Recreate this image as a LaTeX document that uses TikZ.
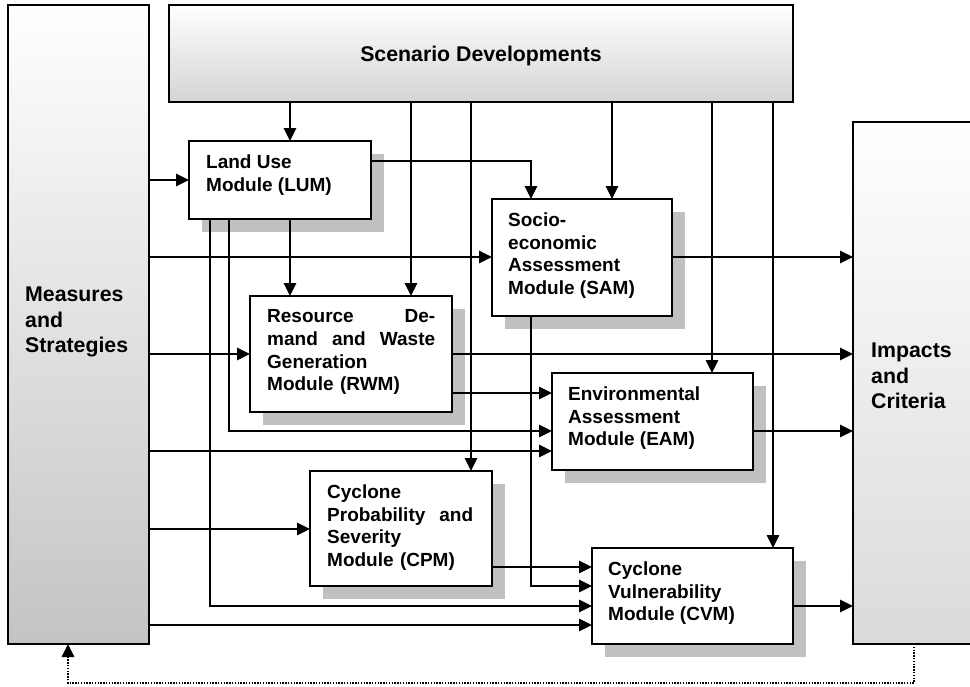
\documentclass[tikz,border=0pt]{standalone}
\usepackage{fontspec}
\setmainfont{Liberation Sans}
\usetikzlibrary{arrows.meta,shadows}
\definecolor{shadowgray}{HTML}{C0C0C0}
\definecolor{sidegray}{HTML}{C4C4C4}
\definecolor{rightgray}{HTML}{DADADA}
\definecolor{topgray}{HTML}{D4D4D4}
\begin{document}
\begin{tikzpicture}[x=1pt,y=-1pt,
  panel/.style={draw, line width=1.7pt, inner sep=0pt, outer sep=0pt,
    anchor=north west, top color=white},
  module/.style={draw, line width=1.7pt, fill=white, inner sep=0pt, outer sep=0pt,
    anchor=north west,
    drop shadow={shadow xshift=13pt, shadow yshift=-13pt, fill=shadowgray, opacity=1}},
  modtext/.style={font=\bfseries\fontsize{19}{22.7}\selectfont, align=left,
    inner sep=0pt, anchor=north west},
  sidetext/.style={font=\bfseries\fontsize{21.3}{25.5}\selectfont, align=left,
    inner sep=0pt, anchor=north west},
  flow/.style={line width=1.4pt, -{Triangle[length=13pt,width=12.5pt]}},
  feedback/.style={line width=1.4pt, dash pattern=on 1.4pt off 1.4pt,
    -{Triangle[length=13pt,width=12.5pt]}}
]
\useasboundingbox (0,0) rectangle (970,686);

% outer panels
\node[panel, bottom color=sidegray, minimum width=141pt, minimum height=639pt] (meas) at (8,5) {};
\node[panel, bottom color=topgray, minimum width=624pt, minimum height=97pt] (scen) at (169,5) {};
\node[panel, bottom color=rightgray, minimum width=130pt, minimum height=522pt] (imp) at (853,122) {};

\node[sidetext] (meas-t) at ([xshift=17pt,yshift=-282pt]meas.north west) {Measures\\and\\Strategies};
\node[sidetext] (imp-t) at ([xshift=18pt,yshift=-221pt]imp.north west) {Impacts\\and\\Criteria};
\node[font=\bfseries\fontsize{21.3}{25.5}\selectfont, anchor=base, inner sep=0pt] (scen-t) at (481,61) {Scenario Developments};

% modules
\node[module, minimum width=182pt, minimum height=78pt]  (lum) at (189,141) {};
\node[module, minimum width=180pt, minimum height=117pt] (sam) at (492,199) {};
\node[module, minimum width=202pt, minimum height=116pt] (rwm) at (250,296) {};
\node[module, minimum width=201pt, minimum height=97pt]  (eam) at (552,373) {};
\node[module, minimum width=182pt, minimum height=115pt] (cpm) at (310,471) {};
\node[module, minimum width=201pt, minimum height=96pt]  (cvm) at (592,548) {};

\node[modtext] (lum-t) at ([xshift=17pt,yshift=-13.5pt]lum.north west) {Land Use\\Module (LUM)};
\node[modtext] (sam-t) at ([xshift=16pt,yshift=-13.5pt]sam.north west) {Socio-\\economic\\Assessment\\Module (SAM)};
\node[modtext, text width=168pt] (rwm-t) at ([xshift=17pt,yshift=-13.5pt]rwm.north west)
  {Resource\hfill De-\\mand\hfill and\hfill Waste\\Generation\\Module (RWM)};
\node[modtext] (eam-t) at ([xshift=16pt,yshift=-13.5pt]eam.north west) {Environmental\\Assessment\\Module (EAM)};
\node[modtext, text width=146pt] (cpm-t) at ([xshift=17pt,yshift=-13.5pt]cpm.north west)
  {Cyclone\\Probability\hfill and\\Severity\\Module (CPM)};
\node[modtext] (cvm-t) at ([xshift=16pt,yshift=-13.5pt]cvm.north west) {Cyclone\\Vulnerability\\Module (CVM)};

% connector lanes: vertical columns
\coordinate (xA) at (210,0);
\coordinate (xB) at (229,0);
\coordinate (xC) at (290,0);
\coordinate (xD) at (411,0);
\coordinate (xE) at (471,0);
\coordinate (xF) at (531,0);
\coordinate (xH) at (612,0);
\coordinate (xI) at (712,0);
\coordinate (xJ) at (773,0);
\coordinate (xK) at (914,0);
\coordinate (xL) at (68,0);
% connector lanes: horizontal rows
\coordinate (y161) at (0,161);
\coordinate (y180) at (0,180);
\coordinate (y257) at (0,257);
\coordinate (y354) at (0,354);
\coordinate (y393) at (0,393);
\coordinate (y431) at (0,431);
\coordinate (y451) at (0,451);
\coordinate (y529) at (0,529);
\coordinate (y567) at (0,567);
\coordinate (y586) at (0,586);
\coordinate (y606) at (0,606);
\coordinate (y625) at (0,625);
\coordinate (y683) at (0,683);

% scenario inputs
\draw[flow] (scen.south -| xC) -- (lum.north -| xC);
\draw[flow] (scen.south -| xD) -- (rwm.north -| xD);
\draw[flow] (scen.south -| xE) -- (cpm.north -| xE);
\draw[flow] (scen.south -| xH) -- (sam.north -| xH);
\draw[flow] (scen.south -| xI) -- (eam.north -| xI);
\draw[flow] (scen.south -| xJ) -- (cvm.north -| xJ);

% land use outputs
\draw[flow] (lum.east |- y161) -| (sam.north -| xF);
\draw[flow] (lum.south -| xC) -- (rwm.north -| xC);
\draw[flow] (lum.south -| xB) |- (eam.west |- y431);
\draw[flow] (lum.south -| xA) |- (cvm.west |- y606);

% measures and strategies
\draw[flow] (meas.east |- y180) -- (lum.west |- y180);
\draw[flow] (meas.east |- y257) -- (sam.west |- y257);
\draw[flow] (meas.east |- y354) -- (rwm.west |- y354);
\draw[flow] (meas.east |- y451) -- (eam.west |- y451);
\draw[flow] (meas.east |- y529) -- (cpm.west |- y529);
\draw[flow] (meas.east |- y625) -- (cvm.west |- y625);

% module outputs
\draw[flow] (sam.east |- y257) -- (imp.west |- y257);
\draw[flow] (rwm.east |- y354) -- (imp.west |- y354);
\draw[flow] (rwm.east |- y393) -- (eam.west |- y393);
\draw[flow] (sam.south -| xF) |- (cvm.west |- y586);
\draw[flow] (cpm.east |- y567) -- (cvm.west |- y567);
\draw[flow] (eam.east |- y431) -- (imp.west |- y431);
\draw[flow] (cvm.east |- y606) -- (imp.west |- y606);

% feedback loop
\draw[feedback] (imp.south -| xK) |- (y683 -| xL) -- (meas.south -| xL);
\end{tikzpicture}
\end{document}
